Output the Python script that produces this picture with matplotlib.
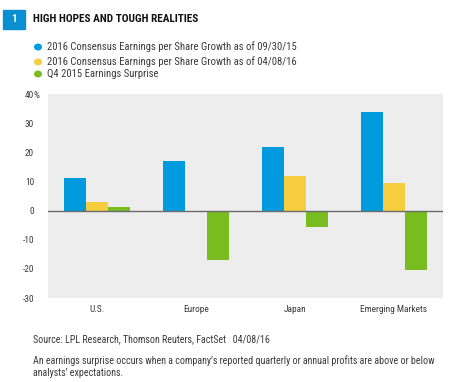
import matplotlib
matplotlib.use("Agg")
import matplotlib.pyplot as plt
from matplotlib import font_manager
import numpy as np
from matplotlib.patches import Rectangle

categories = ["U.S.", "Europe", "Japan", "Emerging Markets"]
series_names = [
    "2016 Consensus Earnings per Share Growth as of 09/30/15",
    "2016 Consensus Earnings per Share Growth as of 04/08/16",
    "Q4 2015 Earnings Surprise",
]
eps_0930 = [11.3, 17.1, 21.8, 33.8]
eps_0408 = [2.8, -0.4, 11.8, 9.4]
surprise = [1.2, -16.9, -5.7, -20.3]
yticks = [40, 30, 20, 10, 0, -10, -20, -30]
colors = ["#009BDE", "#F6CD3F", "#78BC1F"]
title = "HIGH HOPES AND TOUGH REALITIES"
source = "Source: LPL Research, Thomson Reuters, FactSet   04/08/16"
note1 = "An earnings surprise occurs when a company\u2019s reported quarterly or annual profits are above or below"
note2 = "analysts\u2019 expectations."

names = {f.name for f in font_manager.fontManager.ttflist}
prefs = ["Roboto Condensed", "Archivo Narrow", "PT Sans Narrow", "Open Sans Condensed",
         "Fira Sans Condensed", "IBM Plex Sans Condensed", "Barlow Condensed",
         "Encode Sans Condensed", "Asap Condensed", "Liberation Sans Narrow"]
FAM = next((p for p in prefs if p in names), "DejaVu Sans")
FONT = dict(family=FAM)
W, H = 456, 382
fig = plt.figure(figsize=(W / 100, H / 100), dpi=100)
renderer = fig.canvas.get_renderer()

def fx(px):
    return px / W

def fy(py):
    return 1 - py / H

def fit(t, target_px):
    fs = t.get_fontsize()
    w = t.get_window_extent(renderer).width
    t.set_fontsize(fs * target_px / w)
    return t.get_fontsize()

L, R, T, B = 48, 443, 94, 298
ax = fig.add_axes([fx(L), fy(B), fx(R) - fx(L), (B - T) / H])
ax.set_facecolor("#EDEDED")

x = np.arange(len(categories))
w = 0.222
for i, vals in enumerate([eps_0930, eps_0408, surprise]):
    ax.bar(x + (i - 1) * w, vals, width=w, color=colors[i], edgecolor="none", zorder=2)

ax.axhline(0, color="#6b6b6b", lw=1.0, zorder=3)
ax.set_xlim(-0.5, 3.5)
ax.set_ylim(-30, 40)
ax.set_yticks(yticks)
ax.set_yticklabels([str(v) for v in yticks])
ax.set_xticks(x)
ax.set_xticklabels(categories)
for s in ax.spines.values():
    s.set_visible(False)

probe = fig.text(0, 0, "Emerging Markets", fontsize=7, **FONT)
tfs = min(fit(probe, 68), 7.5)
probe.remove()
ax.tick_params(length=0, labelsize=tfs, colors="#3a3a3a", pad=5)
ax.tick_params(axis="y", pad=10)
for lab in ax.get_xticklabels() + ax.get_yticklabels():
    lab.set_family(FAM)
fig.text(fx(33.6), fy(95), "%", fontsize=tfs, color="#3a3a3a", ha="left", va="center", **FONT)

fig.patches.append(Rectangle((fx(3), fy(29)), fx(25) - fx(3), 19 / H,
                             transform=fig.transFigure, color="#0A8FD1", zorder=1))
fig.text(fx(14), fy(19), "1", color="white", fontsize=8, fontweight="bold",
         ha="center", va="center", **FONT)
t = fig.text(fx(33), fy(18.5), title, color="#111111",
             fontsize=8, fontweight="bold", ha="left", va="center", **FONT)
fit(t, 165)

lfs = None
for i, (name, yy) in enumerate(zip(series_names, [47, 62, 74])):
    fig.patches.append(plt.Circle((fx(38), fy(yy)), 3.3 / W, transform=fig.transFigure,
                                  color=colors[i]))
    t = fig.text(fx(47), fy(yy), name, fontsize=7, color="#3a3a3a", ha="left",
                 va="center", **FONT)
    if lfs is None:
        lfs = fit(t, 252)
    else:
        t.set_fontsize(lfs)

t1 = fig.text(fx(33), fy(361), note1, fontsize=7, color="#3a3a3a", ha="left", va="center", **FONT)
nfs = fit(t1, 407)
fig.text(fx(33), fy(339), source, fontsize=nfs, color="#3a3a3a", ha="left", va="center", **FONT)
fig.text(fx(33), fy(373.5), note2, fontsize=nfs, color="#3a3a3a", ha="left", va="center", **FONT)

fig.savefig("out.png", dpi=100, facecolor="white")
